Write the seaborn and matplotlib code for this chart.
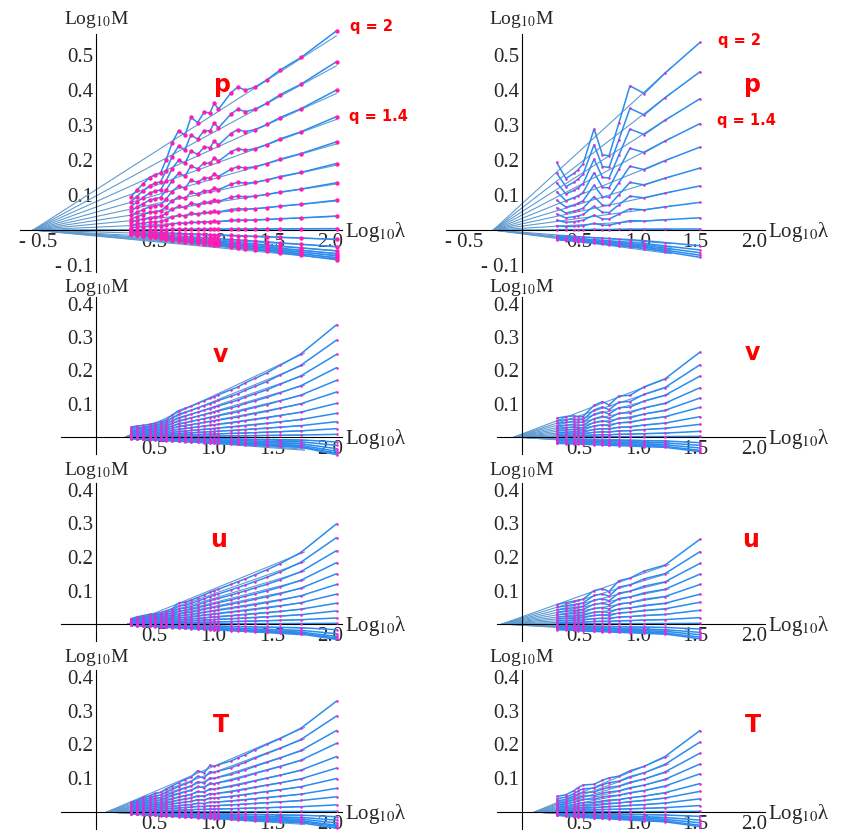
import numpy as np
import pandas as pd
import matplotlib
matplotlib.use('Agg')
import matplotlib.pyplot as plt
import seaborn as sns
from matplotlib.ticker import FixedLocator, FuncFormatter

sns.set_style('white')
plt.rcParams['font.family'] = ['Liberation Serif', 'DejaVu Serif']
plt.rcParams['mathtext.fontset'] = 'stix'

# log10(lambda) sampling, left column (long record) and right column (short record)
x_left = [0.297, 0.344, 0.399, 0.455, 0.502, 0.549, 0.596, 0.647, 0.703, 0.758, 0.809, 0.865,
          0.921, 0.972, 1.008, 1.044, 1.151, 1.207, 1.275, 1.356, 1.459, 1.570, 1.750, 2.053]
x_right = [0.302, 0.381, 0.450, 0.486, 0.529, 0.624, 0.696, 0.753, 0.837, 0.933, 1.056, 1.235, 1.537]

# top curve (q = 2)
p_left_top = [0.095, 0.113, 0.132, 0.150, 0.158, 0.163, 0.200, 0.248, 0.284, 0.271, 0.322, 0.307,
              0.336, 0.335, 0.362, 0.345, 0.392, 0.408, 0.400, 0.408, 0.429, 0.457, 0.493, 0.569]
v_left_top = [0.030, 0.033, 0.035, 0.038, 0.042, 0.046, 0.051, 0.066, 0.079, 0.086, 0.093, 0.101,
              0.109, 0.116, 0.121, 0.127, 0.142, 0.150, 0.163, 0.176, 0.193, 0.215, 0.250, 0.337]
u_left_top = [0.016, 0.021, 0.025, 0.029, 0.031, 0.034, 0.038, 0.045, 0.062, 0.065, 0.071, 0.079,
              0.087, 0.095, 0.100, 0.104, 0.118, 0.126, 0.135, 0.147, 0.162, 0.180, 0.214, 0.299]
T_left_top = [0.029, 0.034, 0.043, 0.048, 0.055, 0.058, 0.068, 0.077, 0.087, 0.096, 0.103, 0.122,
              0.116, 0.138, 0.135, 0.140, 0.151, 0.160, 0.170, 0.184, 0.200, 0.217, 0.248, 0.328]
p_right_top = [0.193, 0.147, 0.162, 0.172, 0.189, 0.289, 0.215, 0.212, 0.305, 0.412, 0.390, 0.448, 0.536]
v_right_top = [0.057, 0.062, 0.064, 0.062, 0.062, 0.096, 0.107, 0.097, 0.124, 0.126, 0.152, 0.176, 0.257]
u_right_top = [0.058, 0.064, 0.068, 0.071, 0.074, 0.100, 0.105, 0.097, 0.129, 0.137, 0.158, 0.176, 0.253]
T_right_top = [0.046, 0.051, 0.063, 0.072, 0.080, 0.082, 0.094, 0.101, 0.106, 0.122, 0.135, 0.164, 0.241]

# lowest curve of each panel
p_left_bot = [-0.012, -0.014, -0.017, -0.019, -0.021, -0.023, -0.026, -0.029, -0.031, -0.033, -0.035, -0.037,
              -0.039, -0.041, -0.043, -0.044, -0.048, -0.050, -0.053, -0.056, -0.060, -0.065, -0.072, -0.085]
v_left_bot = [-0.005, -0.006, -0.007, -0.008, -0.009, -0.010, -0.011, -0.012, -0.013, -0.014, -0.015, -0.016,
              -0.017, -0.018, -0.019, -0.019, -0.021, -0.022, -0.023, -0.025, -0.026, -0.028, -0.031, -0.053]
u_left_bot = [-0.004, -0.005, -0.006, -0.007, -0.008, -0.009, -0.010, -0.011, -0.012, -0.013, -0.014, -0.015,
              -0.016, -0.017, -0.018, -0.018, -0.020, -0.021, -0.022, -0.024, -0.025, -0.027, -0.030, -0.046]
T_left_bot = [-0.006, -0.007, -0.008, -0.009, -0.010, -0.011, -0.012, -0.013, -0.014, -0.015, -0.016, -0.017,
              -0.018, -0.019, -0.020, -0.020, -0.022, -0.023, -0.024, -0.026, -0.027, -0.029, -0.032, -0.048]
p_right_bot = [-0.028, -0.030, -0.032, -0.033, -0.035, -0.038, -0.040, -0.042, -0.045, -0.048, -0.053, -0.062, -0.078]
v_right_bot = [-0.019, -0.020, -0.021, -0.021, -0.022, -0.023, -0.024, -0.025, -0.026, -0.027, -0.029, -0.031, -0.044]
u_right_bot = [-0.017, -0.018, -0.019, -0.020, -0.021, -0.022, -0.023, -0.024, -0.025, -0.026, -0.028, -0.030, -0.044]
T_right_bot = [-0.010, -0.012, -0.014, -0.015, -0.016, -0.018, -0.019, -0.020, -0.022, -0.024, -0.026, -0.029, -0.043]

# end values of every q curve (q = 2 first), read at the last lambda
p_left_end = [0.569, 0.481, 0.400, 0.324, 0.252, 0.190, 0.135, 0.085, 0.040, 0.004,
              -0.027, -0.048, -0.060, -0.068, -0.074, -0.080, -0.085]
v_left_end = [0.337, 0.291, 0.248, 0.208, 0.170, 0.135, 0.101, 0.071, 0.046, 0.025, 0.008,
              -0.015, -0.025, -0.035, -0.043, -0.049, -0.053]
u_left_end = [0.299, 0.258, 0.219, 0.183, 0.150, 0.118, 0.089, 0.062, 0.039, 0.018, 0.002,
              -0.017, -0.029, -0.037, -0.042, -0.046]
T_left_end = [0.328, 0.284, 0.241, 0.203, 0.164, 0.130, 0.099, 0.070, 0.045, 0.021, 0.002,
              -0.014, -0.024, -0.032, -0.039, -0.043, -0.048]
p_right_end = [0.536, 0.452, 0.375, 0.304, 0.237, 0.177, 0.126, 0.079, 0.035, 0.003,
               -0.045, -0.057, -0.065, -0.072, -0.078]
v_right_end = [0.255, 0.217, 0.183, 0.148, 0.117, 0.089, 0.061, 0.038, 0.017, 0.002,
               -0.017, -0.025, -0.033, -0.040, -0.044]
u_right_end = [0.253, 0.216, 0.181, 0.149, 0.118, 0.089, 0.065, 0.041, 0.019, 0.002,
               -0.015, -0.025, -0.032, -0.039, -0.044]
T_right_end = [0.241, 0.207, 0.174, 0.142, 0.113, 0.084, 0.061, 0.039, 0.019, 0.002,
               -0.013, -0.024, -0.032, -0.039, -0.043]

# fitted lines: focal point on the lambda axis, end x, fitted q=2 value at end x
p_left_fit = (-0.54, 2.053, 0.555)
v_left_fit = (0.25, 1.78, 0.252)
u_left_fit = (0.27, 1.78, 0.215)
T_left_fit = (0.09, 1.78, 0.250)
p_right_fit = (-0.245, 1.29, 0.465)
v_right_fit = (-0.064, 1.27, 0.178)
u_right_fit = (-0.17, 1.27, 0.178)
T_right_fit = (0.11, 1.27, 0.166)

names = ['p', 'v', 'u', 'T']

W, H = 849, 839
fig = plt.figure(figsize=(W / 100, H / 100), dpi=100)

col_ox = [96.3, 521.7]
col_sx = [117.0, 116.0]
row_oy = [230.0, 437.0, 624.0, 812.0]
row_sy = [350.0, 333.0, 335.0, 338.0]
row_lab = [15, 10, 13, 13]

LINE = '#2a8cf0'
FIT = '#5f9bd0'

panels = [
    (0, 0, x_left, p_left_top, p_left_bot, p_left_end, p_left_fit),
    (0, 1, x_right, p_right_top, p_right_bot, p_right_end, p_right_fit),
    (1, 0, x_left, v_left_top, v_left_bot, v_left_end, v_left_fit),
    (1, 1, x_right, v_right_top, v_right_bot, v_right_end, v_right_fit),
    (2, 0, x_left, u_left_top, u_left_bot, u_left_end, u_left_fit),
    (2, 1, x_right, u_right_top, u_right_bot, u_right_end, u_right_fit),
    (3, 0, x_left, T_left_top, T_left_bot, T_left_end, T_left_fit),
    (3, 1, x_right, T_right_top, T_right_bot, T_right_end, T_right_fit),
]


def fmt(v, pos):
    return ('- ' if v < 0 else '') + f'{abs(v):.1f}'


for row, col, xs, top, bot, ends, fit in panels:
    ox, sx = col_ox[col], col_sx[col]
    oy, sy = row_oy[row], row_sy[row]
    xlim = (-0.7, 2.15)
    ylim = (-0.13, 0.58) if row == 0 else (-0.06, 0.44)
    l = ox + xlim[0] * sx
    r = ox + xlim[1] * sx
    t = oy - ylim[1] * sy
    b = oy - ylim[0] * sy
    ax = fig.add_axes([l / W, 1 - b / H, (r - l) / W, (b - t) / H])
    ax.patch.set_alpha(0)

    recs = []
    fits = []
    x0, xf, yf = fit
    for i, e in enumerate(ends):
        # positive curves follow the q=2 shape, negative ones the lowest curve
        base = top if e >= 0 else bot
        k = e / base[-1]
        for xv, yv in zip(xs, base):
            recs.append((i, xv, k * yv))
        fits.append((i, x0, 0.0))
        fits.append((i, xf, e / ends[0] * yf))
    df = pd.DataFrame(recs, columns=['curve', 'x', 'y'])
    dfit = pd.DataFrame(fits, columns=['curve', 'x', 'y'])

    sns.lineplot(data=dfit, x='x', y='y', units='curve', estimator=None, color=FIT,
                 lw=0.8, ax=ax, sort=False)
    sns.lineplot(data=df, x='x', y='y', units='curve', estimator=None, color=LINE,
                 lw=1.1, ax=ax, sort=False)
    if row == 0 and col == 0:
        sns.scatterplot(data=df, x='x', y='y', color='#ff1cb4', s=10, linewidth=0, ax=ax, zorder=3)
    else:
        sns.scatterplot(data=df, x='x', y='y', color='#e02ad8', s=3.5, linewidth=0, ax=ax, zorder=3)

    ax.set_xlim(*xlim)
    ax.set_ylim(*ylim)
    ax.set_xlabel('')
    ax.set_ylabel('')
    for s in ['top', 'right']:
        ax.spines[s].set_visible(False)
    ax.spines['left'].set_position(('data', 0))
    ax.spines['bottom'].set_position(('data', 0))
    for s in ['left', 'bottom']:
        ax.spines[s].set_linewidth(0.8)
        ax.spines[s].set_color('black')

    if row == 0:
        xb = (-0.65, 2.1)
        yb = (-0.12, 0.56)
        xt = [-0.5, 0.5, 1.0, 1.5, 2.0]
        yt = [-0.1, 0.1, 0.2, 0.3, 0.4, 0.5]
    else:
        xb = (-0.3 if col == 0 else -0.21, 2.1)
        yb = (-0.05, 0.42)
        xt = [0.5, 1.0, 1.5, 2.0]
        yt = [0.1, 0.2, 0.3, 0.4]
    ax.spines['bottom'].set_bounds(*xb)
    ax.spines['left'].set_bounds(*yb)
    xminor = [round(v, 2) for v in np.arange(-0.6, 2.11, 0.1) if xb[0] <= v <= xb[1] + 1e-9]
    yminor = [round(v, 3) for v in np.arange(-0.12, 0.561, 0.02) if yb[0] <= v <= yb[1] + 1e-9]
    ax.xaxis.set_major_locator(FixedLocator(xt))
    ax.yaxis.set_major_locator(FixedLocator(yt))
    ax.xaxis.set_minor_locator(FixedLocator(xminor))
    ax.yaxis.set_minor_locator(FixedLocator(yminor))
    ax.xaxis.set_major_formatter(FuncFormatter(fmt))
    ax.yaxis.set_major_formatter(FuncFormatter(fmt))
    ax.tick_params(which='major', direction='in', length=4, width=0.8, labelsize=15, pad=2)
    ax.tick_params(which='minor', direction='in', length=2, width=0.6)
    ax.set_axisbelow(True)

    ax.annotate('Log$_{10}$M', xy=(0, yb[1]), xytext=(0, row_lab[row]), textcoords='offset pixels',
                ha='center', va='center', fontsize=14)
    ax.annotate('Log$_{10}$λ', xy=(xb[1], 0), xytext=(3, -2), textcoords='offset pixels',
                ha='left', va='center', fontsize=15)

# red panel labels
red = dict(color='red', fontweight='bold', family='DejaVu Sans', ha='center', va='center')
name_pos = [[(222, 85), (753, 85)], [(220, 355), (752, 353)],
            [(219, 540), (751, 540)], [(221, 725), (753, 725)]]
for row, name in enumerate(names):
    for col in range(2):
        px, py = name_pos[row][col]
        fig.text(px / W, 1 - py / H, name, fontsize=17, **red)
for px, py, s in [(371, 27, 'q = 2'), (378, 117, 'q = 1.4'), (739, 40, 'q = 2'), (746, 120, 'q = 1.4')]:
    fig.text(px / W, 1 - py / H, s, fontsize=10.5, **red)

fig.savefig('out.png', dpi=100)
